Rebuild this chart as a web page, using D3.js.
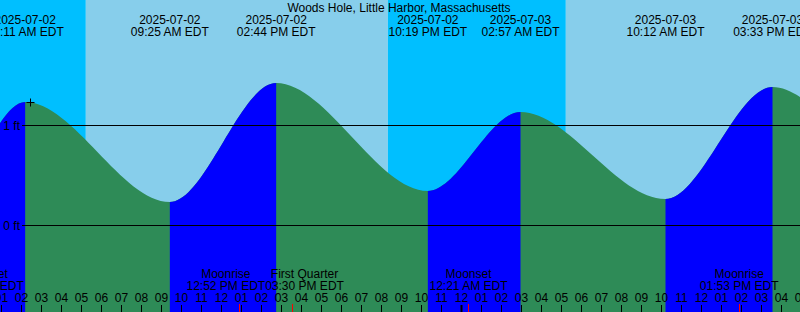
<!DOCTYPE html>
<html>
<head>
<meta charset="utf-8">
<script src="https://cdn.jsdelivr.net/npm/d3@7"></script>
<style>
  body { margin: 0; background: #fff; }
  svg { display: block; }
  text { font-family: "Liberation Sans", Arial, sans-serif; font-size: 12px; fill: #000; }
</style>
</head>
<body>
<div id="chart"></div>
<script>
// Tide graph data (local time, EDT). The first two and last two extremes lie outside the view.
const title = "Woods Hole, Little Harbor, Massachusetts";
const tideTimes = ["2025-07-01 15:20", "2025-07-01 22:00", "2025-07-02 02:11", "2025-07-02 09:25",
                   "2025-07-02 14:44", "2025-07-02 22:19", "2025-07-03 02:57", "2025-07-03 10:12",
                   "2025-07-03 15:33", "2025-07-03 22:50", "2025-07-04 03:40"];
const tideHeights = [1.40, 0.25, 1.23, 0.23, 1.42, 0.34, 1.13, 0.26, 1.38, 0.30, 1.15];
const sunTimes = ["2025-07-02 05:13", "2025-07-02 20:19", "2025-07-03 05:13"]; // rise, set, rise
const moonEvents = ["Moonset", "Moonrise", "First Quarter", "Moonset", "Moonrise"];
const moonTimes = ["2025-07-02 00:10", "2025-07-02 12:52", "2025-07-02 15:30", "2025-07-03 00:21", "2025-07-03 13:53"];
const levelTicks = [0, 1];
const nowMark = {t: "2025-07-02 02:25", v: 1.23};
const viewStart = "2025-07-02 00:55:30", viewEnd = "2025-07-03 16:55:30";

const width = 800, height = 312;
const parse = s => d3.utcParse(s.length > 16 ? "%Y-%m-%d %H:%M:%S" : "%Y-%m-%d %H:%M")(s);
const fmtDate = d3.utcFormat("%Y-%m-%d");
const fmtTime = d => d3.utcFormat("%I:%M %p")(d) + " EDT";

const tides = tideTimes.map((t, i) => ({t: parse(t), v: tideHeights[i]}));

const x = d3.scaleUtc().domain([parse(viewStart), parse(viewEnd)]).range([0, width]);
const y = d3.scaleLinear().domain([0, 1]).range([225, 125]);

const svg = d3.select("#chart").append("svg")
    .attr("width", width)
    .attr("height", height);

// Day / night sky
const bounds = [parse(viewStart), ...sunTimes.map(parse), parse(viewEnd)];
svg.append("g").selectAll("rect")
    .data(d3.pairs(bounds))
    .join("rect")
    .attr("x", d => x(d[0]))
    .attr("y", 0)
    .attr("width", d => x(d[1]) - x(d[0]))
    .attr("height", height)
    .attr("fill", (d, i) => i % 2 === 0 ? "#00bfff" : "#87ceeb");

// Water: falling = green, rising = blue
const area = d3.area()
    .x(d => x(d.t))
    .y0(height)
    .y1(d => y(d.v))
    .curve(d3.curveMonotoneX);

svg.append("path")
    .datum(tides)
    .attr("fill", "#2e8b57")
    .attr("d", area);

const clip = svg.append("clipPath").attr("id", "rising");
clip.selectAll("rect")
    .data(d3.pairs(tides).filter(p => p[1].v > p[0].v))
    .join("rect")
    .attr("x", p => x(p[0].t))
    .attr("y", 0)
    .attr("width", p => x(p[1].t) - x(p[0].t))
    .attr("height", height);

svg.append("path")
    .datum(tides)
    .attr("fill", "#0000ff")
    .attr("clip-path", "url(#rising)")
    .attr("d", area);

// Level lines
svg.append("g").selectAll("line")
    .data(levelTicks)
    .join("line")
    .attr("x1", 22).attr("x2", width)
    .attr("y1", d => Math.round(y(d)) + 0.5)
    .attr("y2", d => Math.round(y(d)) + 0.5)
    .attr("stroke", "#000");

svg.append("g").selectAll("text")
    .data(levelTicks)
    .join("text")
    .attr("x", 20)
    .attr("y", d => y(d) + 4.5)
    .attr("text-anchor", "end")
    .text(d => d + " ft");

// Title
svg.append("text")
    .attr("x", 399).attr("y", 11.5)
    .attr("text-anchor", "middle")
    .text(title);

// Tide event labels (only the extremes inside the view)
const shown = tides.filter(d => d.t >= x.domain()[0] && d.t <= x.domain()[1]);
const tl = svg.append("g").selectAll("g")
    .data(shown)
    .join("g")
    .attr("transform", d => "translate(" + x(d.t) + ",0)");
tl.append("text").attr("y", 23.5).attr("text-anchor", "middle").text(d => fmtDate(d.t));
tl.append("text").attr("y", 36).attr("text-anchor", "middle").text(d => fmtTime(d.t));

// Moon event labels, pushed apart where they would collide
const moon = moonTimes.map((t, i) => ({t: parse(t), name: moonEvents[i]}));
const ml = svg.append("g").selectAll("g")
    .data(moon)
    .join("g");
ml.append("text").attr("y", 277.5).attr("text-anchor", "middle").text(d => d.name);
ml.append("text").attr("y", 290).attr("text-anchor", "middle").text(d => fmtTime(d.t));
ml.each(function (d) {
    d.cx = x(d.t);
    d.w = d3.max(d3.select(this).selectAll("text").nodes(), n => n.getComputedTextLength());
});
for (let i = 1; i < moon.length; i++) {
    const a = moon[i - 1], b = moon[i];
    const need = (a.w + b.w) / 2;
    if (b.cx - a.cx < need) {
        const mid = (a.cx + b.cx) / 2;
        a.cx = mid - need / 2;
        b.cx = mid + need / 2;
    }
}
ml.attr("transform", d => "translate(" + d.cx + ",0)");

// Hour axis
const axis = svg.append("g")
    .attr("transform", "translate(0," + height + ")")
    .call(d3.axisTop(x)
        .tickValues(d3.utcHour.range(parse(viewStart), d3.utcHour.offset(parse(viewEnd), 1)))
        .tickFormat(d3.utcFormat("%I"))
        .tickSize(7)
        .tickPadding(3)
        .offset(0));
axis.select(".domain").remove();
axis.selectAll("text")
    .attr("font-size", 12)
    .attr("font-family", "Liberation Sans, Arial, sans-serif")
    .attr("dy", 0);
axis.selectAll("line").attr("stroke", "#000");

// Day boundary marks
svg.append("g").selectAll("line")
    .data(d3.utcDay.range(parse(viewStart), parse(viewEnd)))
    .join("line")
    .attr("x1", d => x(d)).attr("x2", d => x(d))
    .attr("y1", 305).attr("y2", height)
    .attr("stroke", "#000")
    .attr("stroke-width", 2);

// Moon event marks
svg.append("g").selectAll("line")
    .data(moon)
    .join("line")
    .attr("x1", d => Math.round(x(d.t)) + 0.5).attr("x2", d => Math.round(x(d.t)) + 0.5)
    .attr("y1", 304).attr("y2", height)
    .attr("stroke", "#ff0000");

// Current time mark
const px = Math.round(x(parse(nowMark.t))) + 0.5, py = Math.round(y(nowMark.v)) + 0.5;
svg.append("path")
    .attr("d", "M" + (px - 4) + "," + py + "h8M" + px + "," + (py - 4) + "v8")
    .attr("stroke", "#000")
    .attr("fill", "none");
</script>
</body>
</html>
